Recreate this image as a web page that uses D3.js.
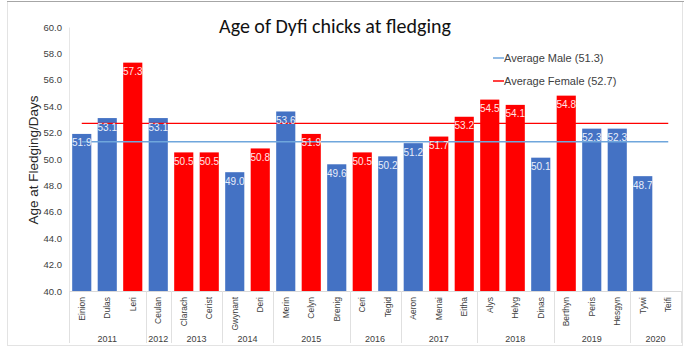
<!DOCTYPE html>
<html>
<head>
<meta charset="utf-8">
<script src="https://cdn.jsdelivr.net/npm/d3@7"></script>
<style>
  body { margin: 0; background: #fff; }
  text { font-family: "Liberation Sans", Arial, sans-serif; }
</style>
</head>
<body>
<div id="chart"></div>
<script>
let w = 684;
let h = 350;

// chick names, in chart order
let names = ["Einion","Dulas","Leri","Ceulan","Clarach","Cerist","Gwynant","Deri","Merin","Celyn","Brenig",
  "Ceri","Tegid","Aeron","Menai","Eitha","Alys","Helyg","Dinas","Berthyn","Peris","Hesgyn","Tywi","Teifi"];
let ages = [51.9,53.1,57.3,53.1,50.5,50.5,49.0,50.8,53.6,51.9,49.6,
  50.5,50.2,51.2,51.7,53.2,54.5,54.1,50.1,54.8,52.3,52.3,48.7,null];
let sexes = ["M","M","F","M","F","F","M","F","M","F","M",
  "F","M","M","F","F","F","F","M","F","M","M","M","F"];
let years = ["2011","2011","2011","2012","2013","2013","2014","2014","2015","2015","2015",
  "2016","2016","2017","2017","2017","2018","2018","2018","2019","2019","2019","2020","2020"];
let yTicks = [40,42,44,46,48,50,52,54,56,58,60];
let avgMale = 51.3;
let avgFemale = 52.7;

let blue = "#4472C4";
let red = "#FF0000";
let lightBlue = "#6fa6dc";

let svg = d3.select("#chart").append("svg")
  .attr("width", w)
  .attr("height", h);

// outer frame
svg.append("rect")
  .attr("x", 7.5).attr("y", 1.5)
  .attr("width", w - 9).attr("height", h - 6)
  .attr("fill", "none")
  .attr("stroke", "#e3e3e3");
svg.append("line")
  .attr("x1", 7).attr("x2", w).attr("y1", 1.5).attr("y2", 1.5)
  .attr("stroke", "#a6a6a6");

let xScale = d3.scaleBand().domain(names).range([69, 681]).paddingInner(0.25).paddingOuter(0.125);
let yScale = d3.scaleLinear().domain([40, 60]).range([291, 27]);

// title
svg.append("text")
  .attr("x", 335).attr("y", 33)
  .attr("text-anchor", "middle")
  .style("font-family", "Carlito, Lato, sans-serif")
  .attr("font-size", 20)
  .attr("fill", "#111")
  .text("Age of Dyfi chicks at fledging");

// y axis
let yAxis = d3.axisLeft(yScale).tickValues(yTicks).tickFormat(d3.format(".1f")).tickSize(0).tickPadding(7);
let yg = svg.append("g").attr("transform", "translate(69,0)").call(yAxis);
yg.select(".domain").attr("stroke", "#e6e6e6");
yg.selectAll("text").attr("font-size", 9.5).attr("fill", "#404040")
  .style("font-family", "Liberation Sans, Arial, sans-serif");

svg.append("text")
  .attr("transform", "translate(38,160) rotate(-90)")
  .attr("text-anchor", "middle")
  .attr("font-size", 13.5)
  .attr("fill", "#262626")
  .text("Age at Fledging/Days");

// bars
let withData = names.map((n, i) => ({name: n, age: ages[i], sex: sexes[i], year: years[i]}));
svg.append("g").selectAll("rect")
  .data(withData.filter(d => d.age != null))
  .join("rect")
  .attr("x", d => xScale(d.name))
  .attr("width", xScale.bandwidth())
  .attr("y", d => yScale(d.age))
  .attr("height", d => yScale(40) - yScale(d.age))
  .attr("fill", d => d.sex == "M" ? blue : red);

// average lines
let xFirst = xScale(names[0]) + xScale.bandwidth() / 2;
let xLast = xScale(names[names.length - 1]) + xScale.bandwidth() / 2;
svg.append("line")
  .attr("x1", xFirst).attr("x2", xLast)
  .attr("y1", yScale(avgMale)).attr("y2", yScale(avgMale))
  .attr("stroke", lightBlue).attr("stroke-width", 1.5);
svg.append("line")
  .attr("x1", xFirst).attr("x2", xLast)
  .attr("y1", yScale(avgFemale)).attr("y2", yScale(avgFemale))
  .attr("stroke", red).attr("stroke-width", 1.3);

// value labels
svg.append("g").selectAll("text")
  .data(withData.filter(d => d.age != null))
  .join("text")
  .attr("x", d => xScale(d.name) + xScale.bandwidth() / 2)
  .attr("y", d => yScale(d.age) + 12.5)
  .attr("text-anchor", "middle")
  .attr("font-size", 10)
  .attr("fill", d => d.sex == "M" ? "#e8eefa" : "#ffe6e6")
  .text(d => d.age.toFixed(1));

// x axis baseline
svg.append("line")
  .attr("x1", 69).attr("x2", 681)
  .attr("y1", 291.5).attr("y2", 291.5)
  .attr("stroke", "#d9d9d9");

// category names
svg.append("g").selectAll("text")
  .data(names)
  .join("text")
  .attr("transform", d => "translate(" + (xScale(d) + xScale.bandwidth() / 2 + 3) + ",297) rotate(-90)")
  .attr("text-anchor", "end")
  .attr("font-size", 8.5)
  .attr("fill", "#404040")
  .text(d => d);

// year groups
let groups = d3.groups(withData, d => d.year);
let step = xScale.step();
let x0 = 69;
let seps = [x0];
let idx = 0;
groups.forEach(function(g) {
  idx += g[1].length;
  seps.push(x0 + idx * step);
});
svg.append("g").selectAll("line")
  .data(seps)
  .join("line")
  .attr("x1", d => Math.round(d) + 0.5).attr("x2", d => Math.round(d) + 0.5)
  .attr("y1", 291).attr("y2", 343)
  .attr("stroke", "#e0e0e0");
svg.append("g").selectAll("text")
  .data(groups)
  .join("text")
  .attr("x", function(g) {
    let first = g[1][0].name;
    let last = g[1][g[1].length - 1].name;
    return (xScale(first) + xScale(last) + xScale.bandwidth()) / 2;
  })
  .attr("y", 342)
  .attr("text-anchor", "middle")
  .attr("font-size", 9)
  .attr("fill", "#404040")
  .text(g => g[0]);

// legend
let legend = [["Average Male (" + avgMale + ")", lightBlue], ["Average Female (" + avgFemale + ")", red]];
let lg = svg.append("g").selectAll("g").data(legend).join("g")
  .attr("transform", (d, i) => "translate(493," + (58 + i * 23) + ")");
lg.append("line").attr("x1", 0).attr("x2", 11).attr("stroke", d => d[1]).attr("stroke-width", 1.5);
lg.append("text").attr("x", 11).attr("y", 4).attr("font-size", 11).attr("fill", "#404040").text(d => d[0]);
</script>
</body>
</html>
